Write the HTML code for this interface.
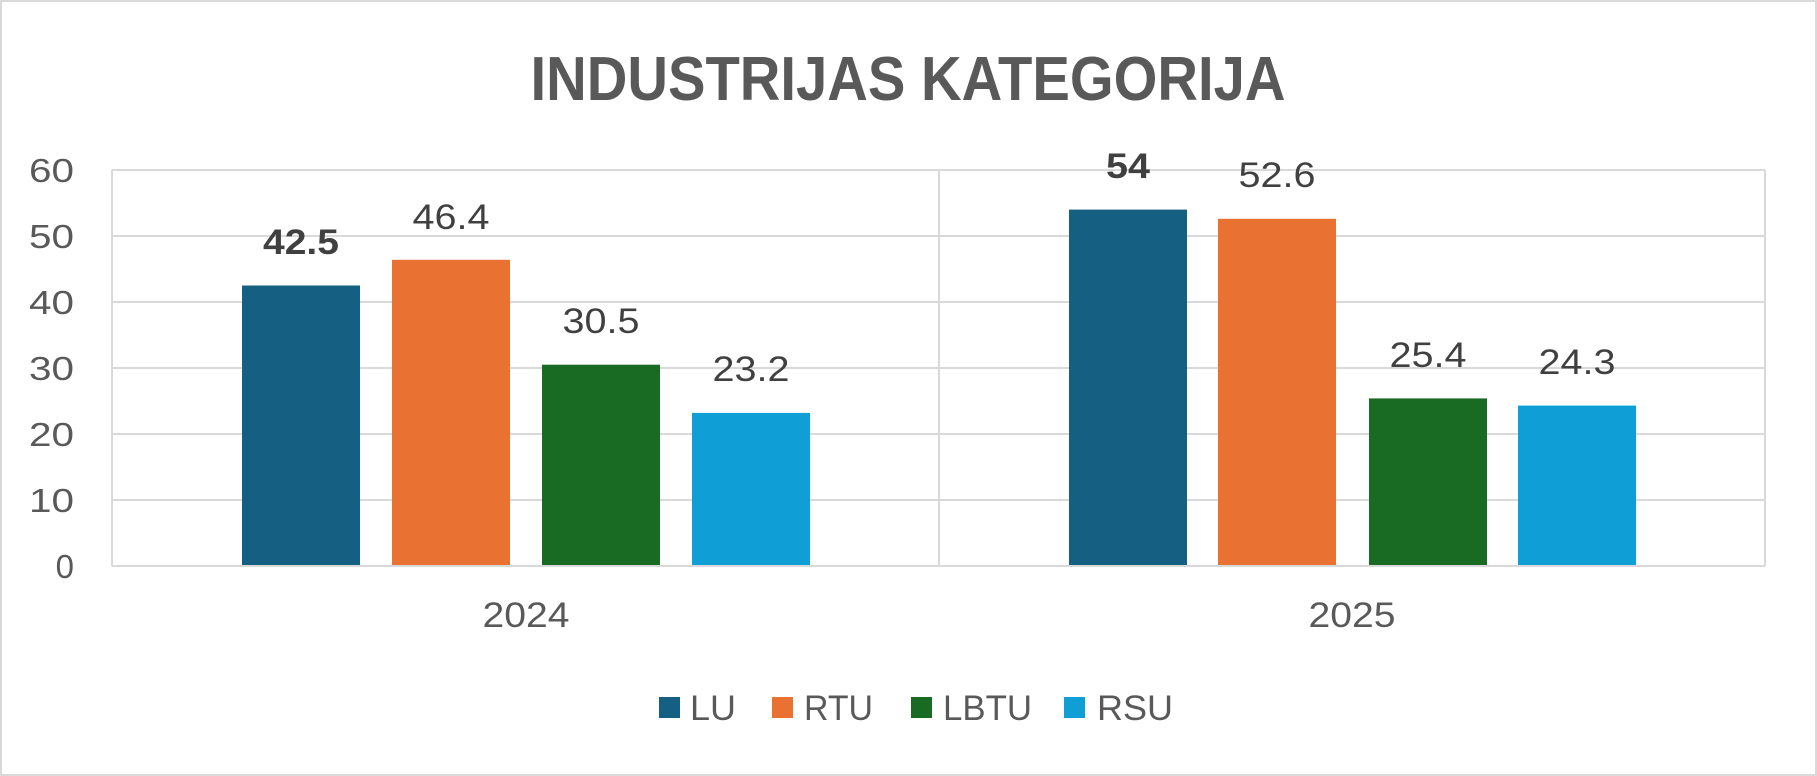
<!DOCTYPE html>
<html><head><meta charset="utf-8"><style>
html,body{margin:0;padding:0;background:#fff;}
svg{display:block;font-family:"Liberation Sans",Arial,sans-serif;}
</style></head><body>
<svg width="1817" height="776" viewBox="0 0 1817 776">
<rect x="1" y="1" width="1815" height="774" fill="#fff" stroke="#d9d9d9" stroke-width="2"/>
<text x="908" y="100" text-anchor="middle" font-size="62" font-weight="bold" fill="#595959" textLength="755" lengthAdjust="spacingAndGlyphs">INDUSTRIJAS KATEGORIJA</text>
<g stroke="#d9d9d9" stroke-width="2">
<line x1="112" y1="170" x2="1765" y2="170"/>
<line x1="112" y1="236" x2="1765" y2="236"/>
<line x1="112" y1="302" x2="1765" y2="302"/>
<line x1="112" y1="368" x2="1765" y2="368"/>
<line x1="112" y1="434" x2="1765" y2="434"/>
<line x1="112" y1="500" x2="1765" y2="500"/>
<line x1="112" y1="566" x2="1765" y2="566"/>
<line x1="112" y1="170" x2="112" y2="566"/>
<line x1="939" y1="170" x2="939" y2="566"/>
<line x1="1765" y1="170" x2="1765" y2="566"/>
</g>
<g font-size="33" fill="#595959" text-anchor="end">
<text x="74" y="182" textLength="45" lengthAdjust="spacingAndGlyphs">60</text>
<text x="74" y="248" textLength="45" lengthAdjust="spacingAndGlyphs">50</text>
<text x="74" y="314" textLength="45" lengthAdjust="spacingAndGlyphs">40</text>
<text x="74" y="380" textLength="45" lengthAdjust="spacingAndGlyphs">30</text>
<text x="74" y="446" textLength="45" lengthAdjust="spacingAndGlyphs">20</text>
<text x="74" y="512" textLength="45" lengthAdjust="spacingAndGlyphs">10</text>
<text x="74" y="578">0</text>
</g>
<rect x="242" y="285.5" width="118" height="279.5" fill="#156082"/>
<rect x="392" y="259.8" width="118" height="305.2" fill="#E97132"/>
<rect x="542" y="364.7" width="118" height="200.3" fill="#196B24"/>
<rect x="692" y="412.9" width="118" height="152.1" fill="#0F9ED5"/>
<rect x="1069" y="209.6" width="118" height="355.4" fill="#156082"/>
<rect x="1218" y="218.8" width="118" height="346.2" fill="#E97132"/>
<rect x="1369" y="398.4" width="118" height="166.6" fill="#196B24"/>
<rect x="1518" y="405.6" width="118" height="159.4" fill="#0F9ED5"/>
<g font-size="35" fill="#404040" text-anchor="middle">
<text x="301" y="254" font-weight="bold" textLength="76" lengthAdjust="spacingAndGlyphs">42.5</text>
<text x="451" y="229" textLength="77" lengthAdjust="spacingAndGlyphs">46.4</text>
<text x="601" y="333" textLength="77" lengthAdjust="spacingAndGlyphs">30.5</text>
<text x="751" y="381" textLength="77" lengthAdjust="spacingAndGlyphs">23.2</text>
<text x="1128" y="178" font-weight="bold" textLength="44" lengthAdjust="spacingAndGlyphs">54</text>
<text x="1277" y="187" textLength="77" lengthAdjust="spacingAndGlyphs">52.6</text>
<text x="1428" y="367" textLength="77" lengthAdjust="spacingAndGlyphs">25.4</text>
<text x="1577" y="374" textLength="77" lengthAdjust="spacingAndGlyphs">24.3</text>
</g>
<g font-size="35" fill="#595959" text-anchor="middle">
<text x="526" y="627" textLength="87" lengthAdjust="spacingAndGlyphs">2024</text>
<text x="1352" y="627" textLength="87" lengthAdjust="spacingAndGlyphs">2025</text>
</g>
<g font-size="35" fill="#595959">
<rect x="659" y="697" width="21" height="21" fill="#156082"/><text x="690" y="720" textLength="46" lengthAdjust="spacingAndGlyphs">LU</text>
<rect x="772" y="697" width="21" height="21" fill="#E97132"/><text x="804" y="720" textLength="69" lengthAdjust="spacingAndGlyphs">RTU</text>
<rect x="911" y="697" width="21" height="21" fill="#196B24"/><text x="943" y="720" textLength="89" lengthAdjust="spacingAndGlyphs">LBTU</text>
<rect x="1064" y="697" width="21" height="21" fill="#0F9ED5"/><text x="1097" y="720" textLength="76" lengthAdjust="spacingAndGlyphs">RSU</text>
</g>
</svg>
</body></html>
